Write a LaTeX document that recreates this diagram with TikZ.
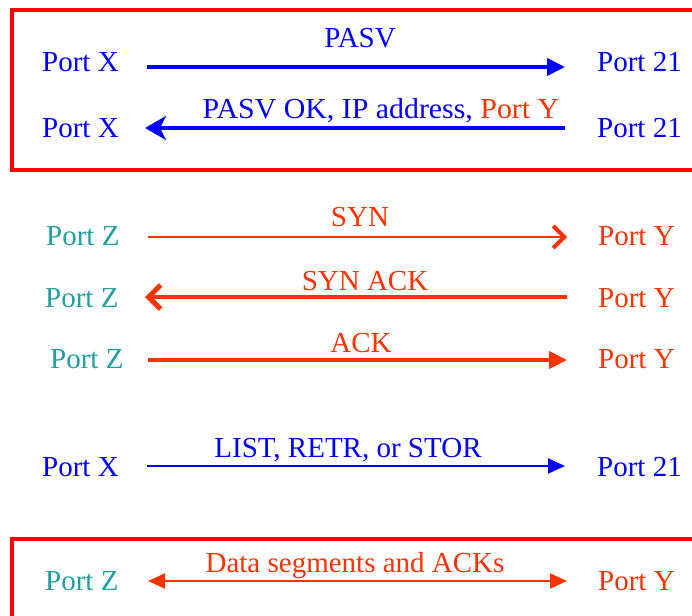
\documentclass[tikz,border=0pt]{standalone}
\usepackage{fontspec}
\setmainfont{Liberation Serif}
\usetikzlibrary{arrows.meta}
\definecolor{fblue}{RGB}{0,0,255}
\definecolor{fred}{RGB}{255,0,0}
\definecolor{forange}{RGB}{255,51,0}
\definecolor{fteal}{RGB}{32,160,160}
\tikzset{
  txt/.style={inner sep=0pt, font=\fontsize{29}{34}\selectfont},
  lport/.style={txt, anchor=base west},
  rport/.style={txt, anchor=base west},
  lbl/.style={txt, anchor=base},
  frame/.style={draw=fred, line width=4pt},
  thick arrow/.style={line width=4pt},
  thin arrow/.style={line width=2pt},
}
\begin{document}
\begin{tikzpicture}[x=1pt,y=-1pt]
\useasboundingbox (0,0) rectangle (692,615);
\clip (0,0) rectangle (692,615);
\fill[white] (0,0) rectangle (692,615);
% frames
\draw[frame] (12,10) rectangle (720,170);
\draw[frame] (12,539) rectangle (720,660);
% row 1
\node[lport, text=fblue] (x1) at (42,72) {Port X};
\node[rport, text=fblue] (t1) at (597,72) {Port 21};
\node[lbl, text=fblue] (l1) at (360,48) {PASV};
\draw[fblue, thick arrow, -{Triangle[length=18pt,width=17pt]}]
  ([shift={(105,-5)}]x1.base west) -- ([shift={(-32,-5)}]t1.base west);
% row 2
\node[lport, text=fblue] (x2) at (42,137) {Port X};
\node[rport, text=fblue] (t2) at (597,137) {Port 21};
\node[lbl, xscale=1.03] (l2) at (381,118) {\textcolor{fblue}{PASV OK, IP address,} \textcolor{forange}{Port Y}};
\draw[fblue, thick arrow, -{Stealth[length=21pt,width=24pt,inset=6pt]}]
  ([shift={(-32,-9)}]t2.base west) -- ([shift={(103,-9)}]x2.base west);
% row 3
\node[lport, text=fteal] (z3) at (46,245) {Port Z};
\node[rport, text=forange] (y3) at (598,245) {Port Y};
\node[lbl, text=forange] (l3) at (360,226) {SYN};
\draw[forange, thin arrow, -{Straight Barb[length=11pt,width=22pt,line width=4pt]}]
  ([shift={(102,-8)}]z3.base west) -- ([shift={(-31,-8)}]y3.base west);
% row 4
\node[lport, text=fteal] (z4) at (45,307) {Port Z};
\node[rport, text=forange] (y4) at (598,307) {Port Y};
\node[lbl, text=forange] (l4) at (365,290) {SYN ACK};
\draw[forange, thick arrow, -{Straight Barb[length=12pt,width=24pt,line width=5pt]}]
  ([shift={(-31,-10)}]y4.base west) -- ([shift={(100,-10)}]z4.base west);
% row 5
\node[lport, text=fteal] (z5) at (50,368) {Port Z};
\node[rport, text=forange] (y5) at (598,368) {Port Y};
\node[lbl, text=forange] (l5) at (361,352) {ACK};
\draw[forange, thick arrow, -{Triangle[length=18pt,width=17pt]}]
  ([shift={(98,-8)}]z5.base west) -- ([shift={(-31,-8)}]y5.base west);
% row 6
\node[lport, text=fblue] (x6) at (42,476) {Port X};
\node[rport, text=fblue] (t6) at (597,476) {Port 21};
\node[lbl, text=fblue] (l6) at (348,457) {LIST, RETR, or STOR};
\draw[fblue, thin arrow, -{Triangle[length=17pt,width=15pt]}]
  ([shift={(105,-10)}]x6.base west) -- ([shift={(-32,-10)}]t6.base west);
% row 7
\node[lport, text=fteal] (z7) at (45,590) {Port Z};
\node[rport, text=forange] (y7) at (598,590) {Port Y};
\node[lbl, text=forange] (l7) at (355,572) {Data segments and ACKs};
\draw[forange, thin arrow, {Triangle[length=17pt,width=15pt]}-{Triangle[length=17pt,width=15pt]}]
  ([shift={(103,-9)}]z7.base west) -- ([shift={(-31,-9)}]y7.base west);
\end{tikzpicture}
\end{document}
